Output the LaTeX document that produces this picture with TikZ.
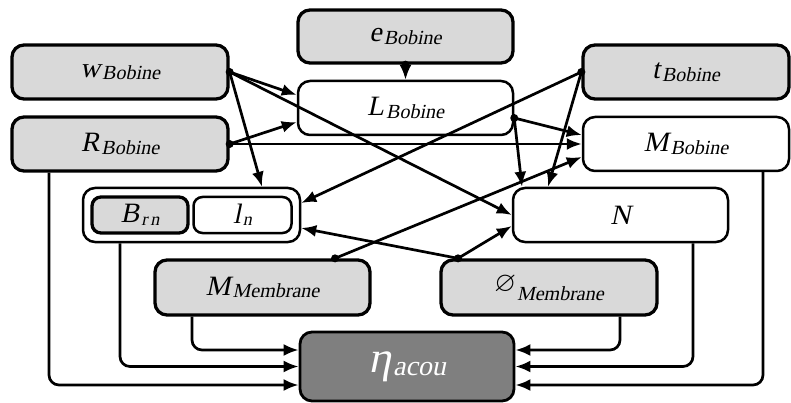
\documentclass[tikz,border=0pt]{standalone}
\usepackage{fontspec}
\usepackage{amssymb}
\setmainfont{Liberation Serif}
\newfontfamily\tnr{Liberation Serif}[FakeSlant=0.21]
\usetikzlibrary{arrows.meta,calc}
\definecolor{lgray}{HTML}{D9D9D9}
\definecolor{dgray}{HTML}{7F7F7F}
\newcommand\mainsz{\tnr\fontsize{28}{28}\selectfont}
\newcommand\subsz{\tnr\fontsize{20}{20}\selectfont}
\newcommand\lbl[2]{{\mainsz #1}\kern2pt\raisebox{-2.5pt}{\subsz #2}}
\tikzset{
  base/.style={rounded corners=12pt, inner sep=0pt, minimum height=54pt, font=\tnr},
  gbox/.style={base, draw, line width=3.3pt, fill=lgray},
  wbox/.style={base, draw, line width=2.5pt, fill=white},
  ebox/.style={base, draw, line width=2.8pt, fill=dgray, text=white},
  conn/.style={line width=2.7pt, -{Latex[length=15pt,width=12pt]}},
  bconn/.style={line width=2.7pt, rounded corners=10pt, -{Latex[length=15pt,width=12pt]}},
  dot/.style={fill=black},
}
\begin{document}
\begin{tikzpicture}[x=1pt,y=-1pt]
\useasboundingbox (0,0) rectangle (791,403);
% nodes
\node[gbox, minimum width=216pt] (w) at (120,72) {\lbl{w}{Bobine}};
\node[gbox, minimum width=216pt] (R) at (120,144) {\lbl{R}{Bobine}};
\node[gbox, minimum width=215pt, minimum height=53pt] (e) at (405.5,36.5) {\lbl{e}{Bobine}};
\node[wbox, minimum width=215pt] (L) at (405.5,108) {\lbl{L}{Bobine}};
\node[gbox, minimum width=206pt] (t) at (686,72) {\lbl{t}{Bobine}};
\node[wbox, minimum width=206pt] (M) at (686,144) {\lbl{M}{Bobine}};
\node[wbox, minimum width=215pt] (N) at (620.5,215) {{\mainsz N}};
\node[wbox, minimum width=217pt] (G) at (191.5,215) {};
\node[gbox, minimum width=96pt, minimum height=36pt, rounded corners=9pt] (B) at (140,215) {{\mainsz B}\kern2pt\raisebox{-2.5pt}{\tnr\fontsize{18}{18}\selectfont r\,n}};
\node[wbox, minimum width=98pt, minimum height=36pt, rounded corners=9pt] (l) at (242.5,215) {{\mainsz l}\kern2pt\raisebox{-2.5pt}{\tnr\fontsize{18}{18}\selectfont n}};
\node[gbox, minimum width=215pt, minimum height=55pt] (MM) at (262.5,287.5) {\lbl{M}{Membrane}};
\node[gbox, minimum width=216pt, minimum height=55pt] (D) at (549,287.5) {\raisebox{3pt}{\fontsize{28}{28}\selectfont$\varnothing$}\kern1pt\raisebox{-6pt}{\subsz Membrane}};
\node[ebox, minimum width=214pt, minimum height=69pt] (eta) at (407,366.5) {{\tnr\fontsize{44}{44}\selectfont η}\kern2pt\raisebox{-3pt}{\tnr\fontsize{28}{28}\selectfont acou}};
% connector start points
\coordinate (wo) at (w.east);
\coordinate (ro) at (R.east);
\coordinate (eo) at (e.south);
\coordinate (lo) at ([yshift=-10pt]L.east);
\coordinate (to) at (t.west);
\coordinate (mmo) at ([xshift=72.5pt]MM.north);
\coordinate (do) at ([xshift=-91pt]D.north);
% connectors
\draw[conn] (eo) -- (L.north);
\draw[conn] (wo) -- ([yshift=13pt]L.west);
\draw[conn] (wo) -- (N.west);
\draw[conn] (wo) -- ([xshift=70.5pt]G.north);
\draw[conn] (ro) -- ([yshift=-14pt]L.west);
\draw[conn] (ro) -- (M.west);
\draw[conn] (lo) -- ([yshift=9pt]M.west);
\draw[conn] (lo) -- ([xshift=-98.5pt]N.north);
\draw[conn] (to) -- ([yshift=12pt]G.east);
\draw[conn] (to) -- ([xshift=-72.5pt]N.north);
\draw[conn] (mmo) -- ([yshift=-13pt]M.west);
\draw[conn] (do) -- ([yshift=-11pt]N.west);
\draw[conn] (do) -- ([yshift=-13pt]G.east);
\foreach \p in {wo,ro,eo,lo,to,mmo,do} \fill[dot] (\p) circle (4pt);
% bottom connectors
\draw[bconn] ([xshift=-71pt]R.south) |- ([yshift=-18.5pt]eta.west);
\draw[bconn] ([xshift=-71.5pt]G.south) |- (eta.west);
\draw[bconn] ([xshift=-70.5pt]MM.south) |- ([yshift=16.5pt]eta.west);
\draw[bconn] ([xshift=71pt]D.south) |- ([yshift=16.5pt]eta.east);
\draw[bconn] ([xshift=72.5pt]N.south) |- (eta.east);
\draw[bconn] ([xshift=77pt]M.south) |- ([yshift=-18.5pt]eta.east);
\end{tikzpicture}
\end{document}
